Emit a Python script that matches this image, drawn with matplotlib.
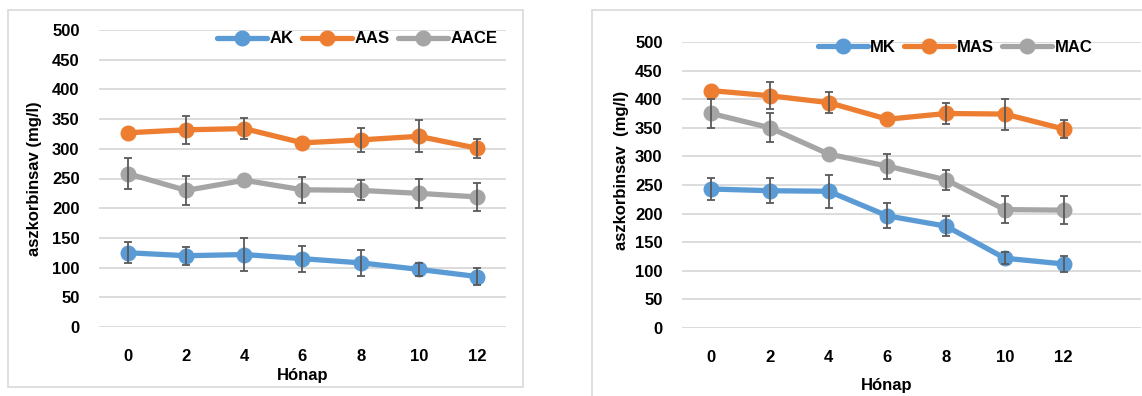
"""
Aszkorbinsav tartalom a tárolás során (két panel)
"""
import matplotlib.pyplot as plt
from matplotlib.patches import Rectangle

plt.rcParams["font.family"] = ["Liberation Sans", "DejaVu Sans"]
plt.rcParams["font.weight"] = "bold"

MONTHS = ["0", "2", "4", "6", "8", "10", "12"]

# bal panel
AK = [125, 120, 122, 115, 108, 97, 85]
AK_ERR = [18, 15, 28, 22, 22, 11, 14]
AAS = [327, 332, 334, 310, 315, 321, 301]
AAS_ERR = [0, 24, 18, 0, 20, 27, 16]
AACE = [258, 230, 247, 231, 230, 225, 219]
AACE_ERR = [26, 25, 0, 22, 17, 24, 24]

# jobb panel
MK = [243, 240, 239, 196, 178, 122, 112]
MK_ERR = [19, 22, 29, 22, 18, 10, 14]
MAS = [415, 406, 394, 365, 375, 374, 348]
MAS_ERR = [0, 24, 18, 0, 19, 27, 16]
MAC = [375, 350, 304, 283, 259, 207, 206]
MAC_ERR = [26, 25, 0, 22, 17, 24, 24]

BLUE = "#5B9BD5"
ORANGE = "#ED7D31"
GRAY = "#A5A5A5"
ERR_COLOR = "#595959"
GRID = "#D9D9D9"

W, H = 1142, 396
FS = 12


def px_axes(fig, x0, y0, x1, y1):
    """axes from pixel box (top-left origin)"""
    return fig.add_axes([x0 / W, 1 - y1 / H, (x1 - x0) / W, (y1 - y0) / H])


def draw_panel(axis, series, labels, xmax, legend_box, ylabel):
    pos = list(range(len(MONTHS)))
    colors = [BLUE, ORANGE, GRAY]
    handles = []
    for (vals, errs), lab, col in zip(series, labels, colors):
        (line,) = axis.plot(
            pos, vals, color=col, lw=3.8, marker="o", markersize=10.5,
            label=lab, zorder=3, solid_capstyle="round",
        )
        handles.append(line)
        # zero error -> no bar drawn (as in the original)
        keep = [i for i, e in enumerate(errs) if e > 0]
        axis.errorbar(
            [pos[i] for i in keep], [vals[i] for i in keep],
            yerr=[errs[i] for i in keep], fmt="none", ecolor=ERR_COLOR,
            elinewidth=1.3, capsize=3, capthick=1.3, zorder=4,
        )
    axis.set_ylim(0, 500)
    axis.set_xlim(-0.5, xmax)
    axis.set_yticks(range(0, 501, 50))
    axis.set_xticks(pos)
    axis.set_xticklabels(MONTHS)
    axis.yaxis.grid(True, color=GRID, lw=1.3)
    axis.set_axisbelow(True)
    for spine in axis.spines.values():
        spine.set_visible(False)
    axis.tick_params(length=0, labelsize=FS, pad=14)
    axis.tick_params(axis="x", pad=16)
    axis.set_ylabel(ylabel, fontsize=FS, fontweight="bold")
    axis.set_xlabel("Hónap", fontsize=FS, fontweight="bold", labelpad=3)
    axis.legend(
        handles=handles, loc="center", bbox_to_anchor=legend_box, ncol=3,
        frameon=False, fontsize=FS, handlelength=3.0, columnspacing=0.5,
        handletextpad=0.15, borderaxespad=0,
    )


fig = plt.figure(figsize=(W / 100, H / 100), dpi=100)

fig.patches.append(
    Rectangle((8 / W, 1 - 387 / H), 515 / W, 377 / H, transform=fig.transFigure,
              fill=False, edgecolor=GRID, lw=1.2)
)
fig.patches.append(
    Rectangle((592 / W, -0.05), 0.6, 1 - 10 / H + 0.05, transform=fig.transFigure,
              fill=False, edgecolor=GRID, lw=1.2)
)

left = px_axes(fig, 99, 30, 506, 327)
draw_panel(
    left,
    [(AK, AK_ERR), (AAS, AAS_ERR), (AACE, AACE_ERR)],
    ["AK", "AAS", "AACE"],
    6.5,
    (0.635, 0.97),
    "aszkorbinsav (mg/l)",
)
left.yaxis.set_label_coords(-0.14, 0.5)

right = px_axes(fig, 682, 42, 1141, 328)
draw_panel(
    right,
    [(MK, MK_ERR), (MAS, MAS_ERR), (MAC, MAC_ERR)],
    ["MK", "MAS", "MAC"],
    7.32,
    (0.595, 0.98),
    "aszkorbinsav  (mg/l)",
)
right.yaxis.set_label_coords(-0.115, 0.55)
right.xaxis.set_label_coords(0.445, -0.175)

fig.savefig("out.png", dpi=100)
